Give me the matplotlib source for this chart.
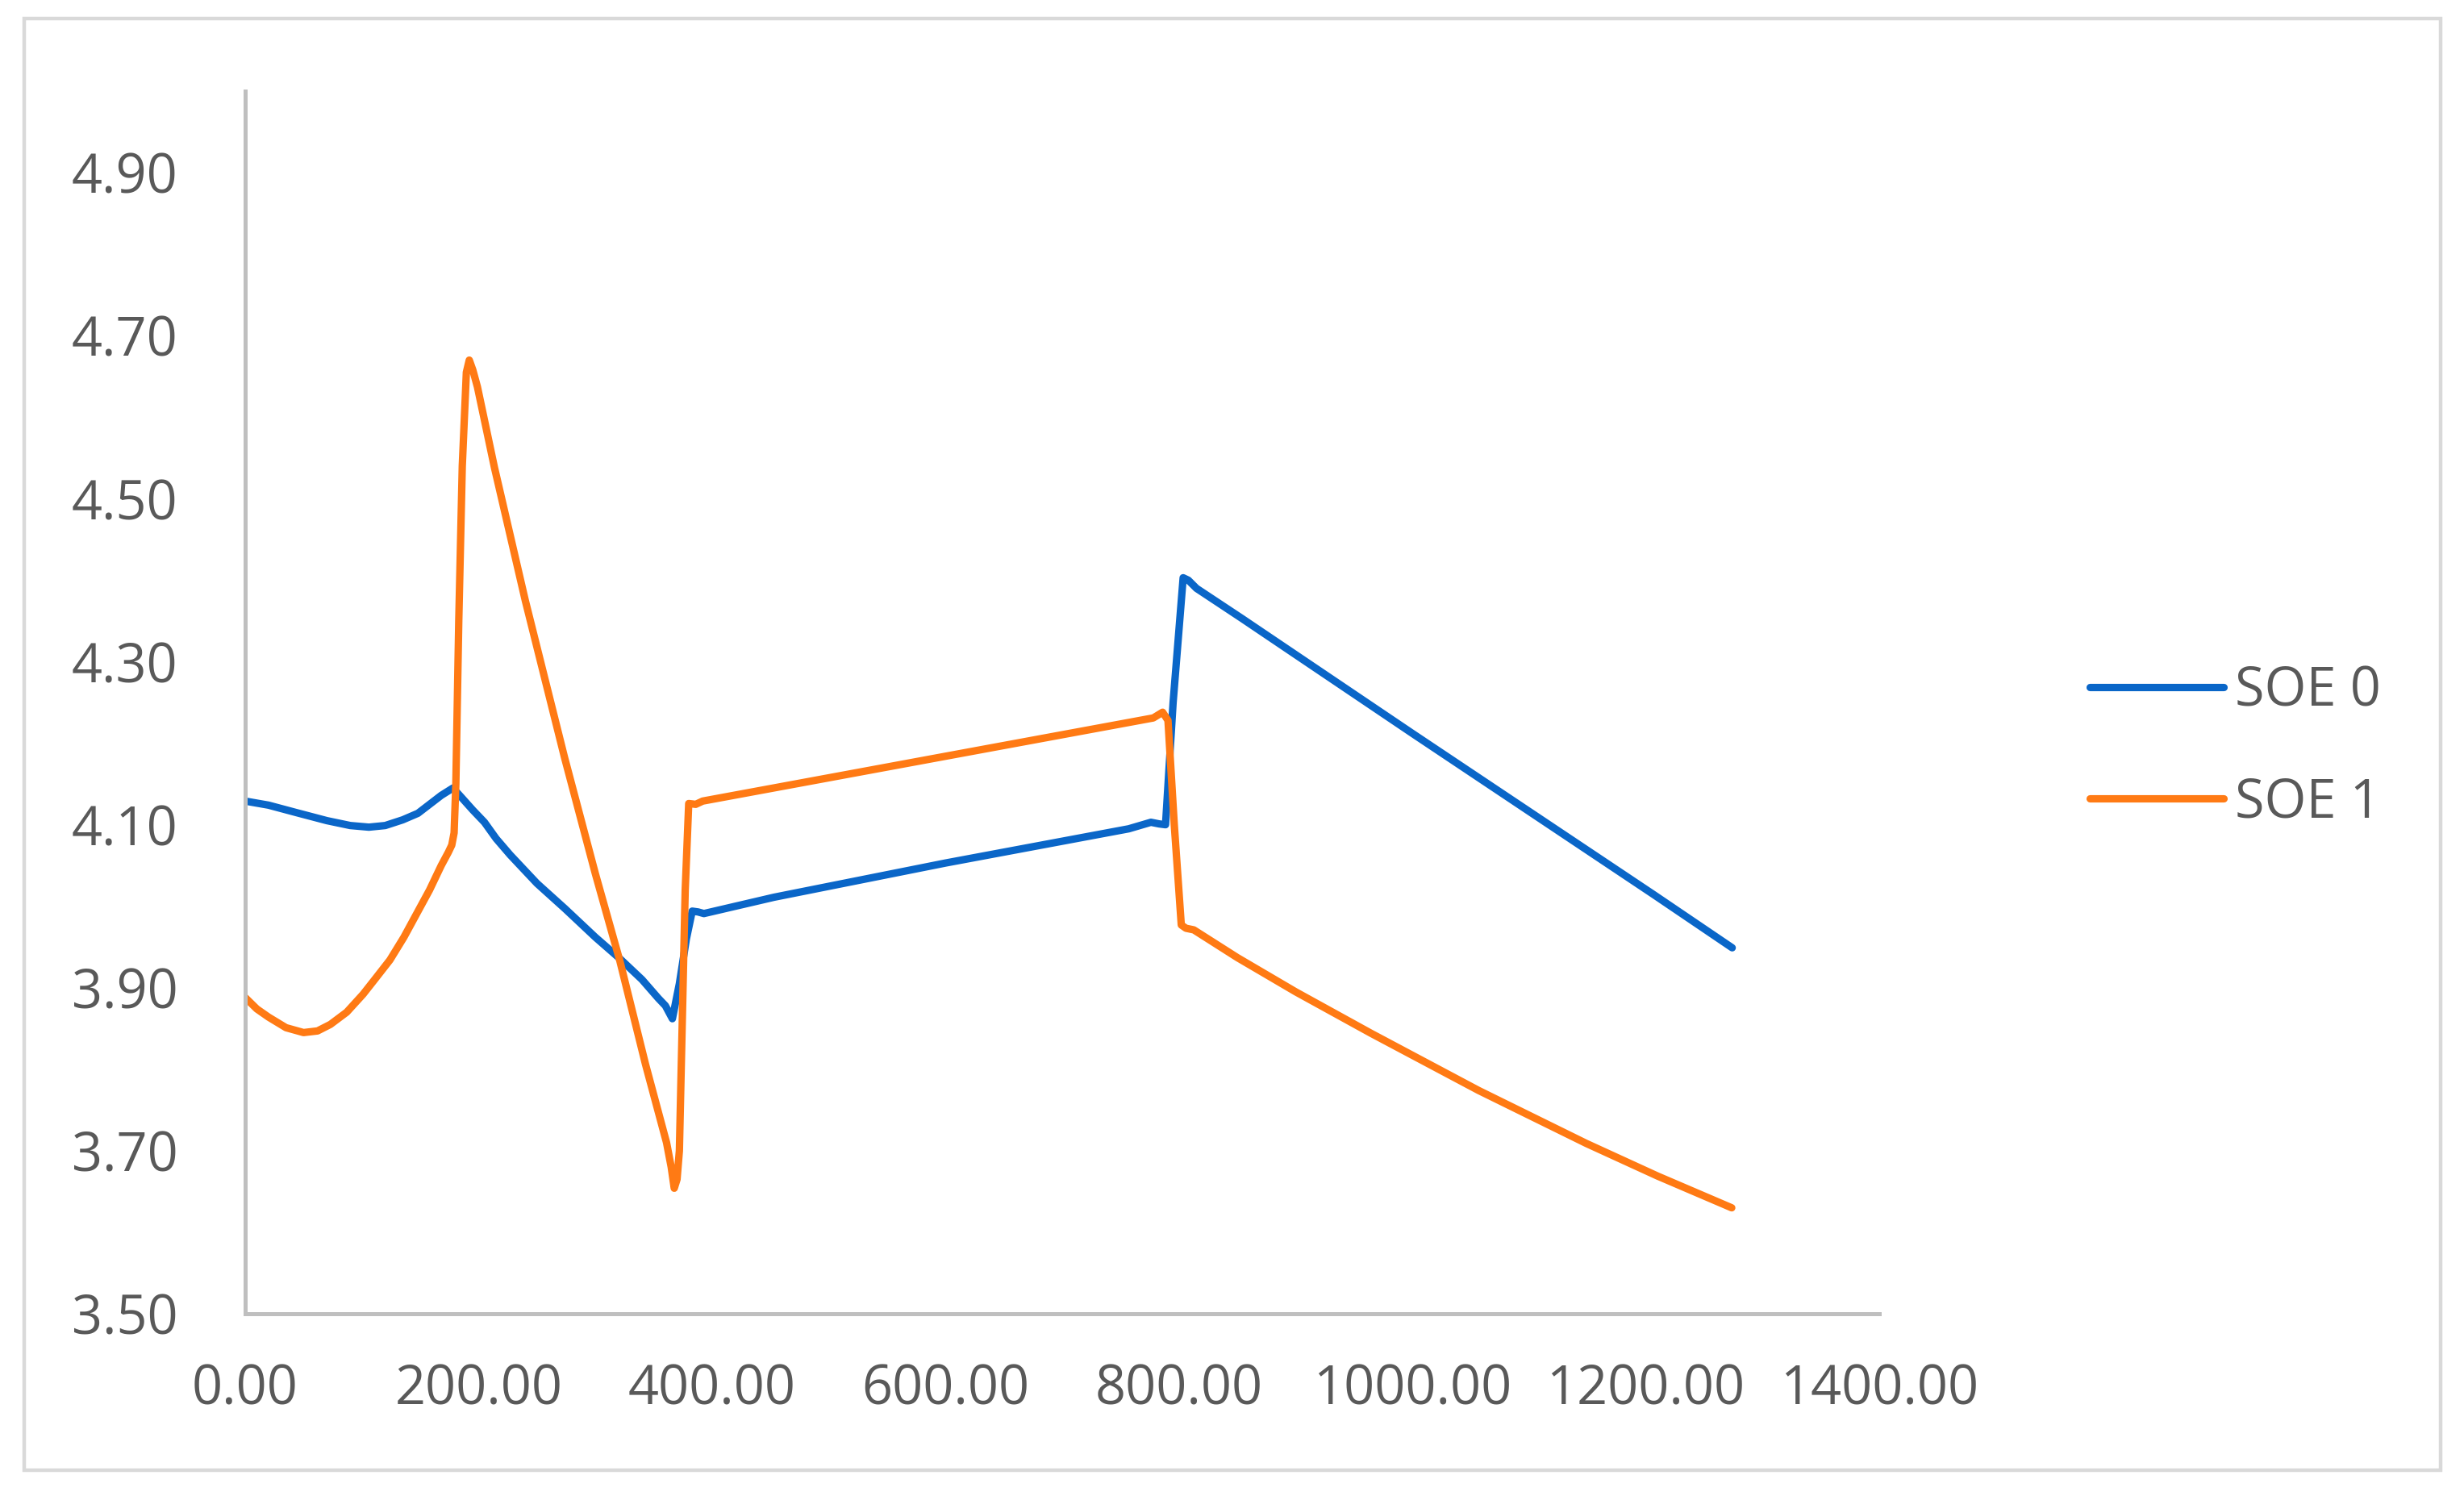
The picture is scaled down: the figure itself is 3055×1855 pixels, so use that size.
import matplotlib.pyplot as plt
from matplotlib.patches import Rectangle
from matplotlib.ticker import FormatStrFormatter

# SOE 0 (blue)
soe0_x = [0, 20, 43.5, 70, 90, 106, 120, 135, 148, 158, 168, 178, 185, 195, 205, 215, 227,
          250, 274, 300, 320, 340, 354, 360, 366, 372, 378, 383, 388, 393, 453, 600, 757,
          776, 783, 788.5, 795, 803.6, 808, 815, 854, 1000, 1207, 1274]
soe0_y = [4.129, 4.124, 4.115, 4.105, 4.099, 4.097, 4.099, 4.106, 4.114, 4.125, 4.136, 4.145,
          4.134, 4.118, 4.103, 4.083, 4.063, 4.028, 3.997, 3.962, 3.937, 3.910, 3.887, 3.878,
          3.862, 3.905, 3.960, 3.994, 3.993, 3.991, 4.011, 4.053, 4.095, 4.103, 4.101, 4.100,
          4.250, 4.403, 4.400, 4.390, 4.353, 4.212, 4.014, 3.949]

# SOE 1 (orange)
soe1_x = [0, 10, 20, 35, 50, 62, 73, 87, 101, 112, 124, 136, 147, 158, 168, 174, 177, 179,
          180.5, 183, 186, 189.5, 192, 195, 199, 213.6, 240, 273.7, 300, 321, 343, 361, 365,
          367.6, 370, 372, 377, 380, 386, 392, 600, 778, 786, 790.6, 796, 802, 806, 812.7,
          850, 900, 964.7, 1056.7, 1149, 1210, 1273.6]
soe1_y = [3.888, 3.874, 3.864, 3.851, 3.845, 3.847, 3.855, 3.870, 3.892, 3.912, 3.934, 3.962,
          3.991, 4.020, 4.050, 4.066, 4.075, 4.090, 4.150, 4.350, 4.540, 4.655, 4.670, 4.658,
          4.637, 4.538, 4.375, 4.182, 4.040, 3.933, 3.806, 3.710, 3.680, 3.654, 3.665, 3.700,
          4.020, 4.126, 4.125, 4.129, 4.184, 4.231, 4.238, 4.228, 4.100, 3.977, 3.973, 3.971,
          3.937, 3.895, 3.844, 3.774, 3.709, 3.669, 3.630]

x_ticks = [0, 200, 400, 600, 800, 1000, 1200, 1400]
y_ticks = [3.5, 3.7, 3.9, 4.1, 4.3, 4.5, 4.7, 4.9]
series_names = ['SOE 0', 'SOE 1']

plt.rcParams['font.family'] = ['Open Sans', 'DejaVu Sans']

fig = plt.figure(figsize=(15.275, 9.275), dpi=200)
ax = fig.add_axes([0.0995, 0.1218, 0.6632, 0.8173])

ax.plot(soe0_x, soe0_y, color='#0A66C8', lw=3.3, solid_joinstyle='round',
        solid_capstyle='round', label=series_names[0])
ax.plot(soe1_x, soe1_y, color='#FF7A14', lw=3.3, solid_joinstyle='round',
        solid_capstyle='round', label=series_names[1])

ax.set_xlim(0, 1400)
ax.set_ylim(3.5, 5.0)
ax.set_xticks(x_ticks)
ax.set_yticks(y_ticks)
ax.xaxis.set_major_formatter(FormatStrFormatter('%.2f'))
ax.yaxis.set_major_formatter(FormatStrFormatter('%.2f'))

for s in ['top', 'right']:
    ax.spines[s].set_visible(False)
for s in ['left', 'bottom']:
    ax.spines[s].set_color('#BFBFBF')
    ax.spines[s].set_linewidth(1.8)

ax.tick_params(axis='both', length=0, labelsize=24, labelcolor='#595959')
ax.tick_params(axis='y', pad=30)
ax.tick_params(axis='x', pad=22)

leg = ax.legend(loc='center left', bbox_to_anchor=(0.848, 0.5005),
                bbox_transform=fig.transFigure, frameon=False, fontsize=24,
                handlelength=2.5, handletextpad=0.2, labelspacing=1.05,
                borderaxespad=0, borderpad=0)
for t in leg.get_texts():
    t.set_color('#595959')

# light grey outer frame
fig.add_artist(Rectangle((30 / 3055, 1 - 1823 / 1855), 2996 / 3055, 1800 / 1855,
                         transform=fig.transFigure, fill=False,
                         edgecolor='#D9D9D9', lw=1.6))

plt.savefig('out.png', dpi=200, facecolor='white')
